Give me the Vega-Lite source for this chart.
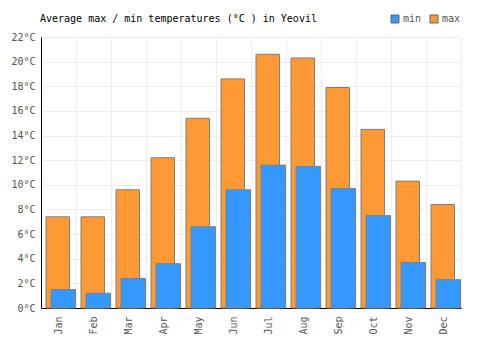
{
  "$schema": "https://vega.github.io/schema/vega-lite/v6.json",
  "width": 420,
  "height": 271,
  "autosize": {"type": "none"},
  "padding": {"left": 41, "top": 37, "right": 39, "bottom": 42},
  "background": "white",
  "title": {"text": "Average max / min temperatures (°C ) in Yeovil", "anchor": "start", "frame": "group", "font": "DejaVu Sans Mono", "fontSize": 10, "fontWeight": "normal", "color": "#000000", "offset": 14, "dx": -1, "dy": 24},
  "config": {
    "font": "DejaVu Sans Mono",
    "view": {"stroke": "#eeeeee", "strokeWidth": 1},
    "axis": {"labelFont": "DejaVu Sans Mono", "labelFontSize": 10, "labelColor": "#555555", "gridColor": "#eeeeee", "gridWidth": 1, "ticks": false, "domainColor": "#000000", "domainWidth": 1, "title": null}
  },
  "data": {"values": [
    {"month": "Jan", "type": "max", "value": 7.4}, {"month": "Jan", "type": "min", "value": 1.5},
    {"month": "Feb", "type": "max", "value": 7.4}, {"month": "Feb", "type": "min", "value": 1.2},
    {"month": "Mar", "type": "max", "value": 9.6}, {"month": "Mar", "type": "min", "value": 2.4},
    {"month": "Apr", "type": "max", "value": 12.2}, {"month": "Apr", "type": "min", "value": 3.6},
    {"month": "May", "type": "max", "value": 15.4}, {"month": "May", "type": "min", "value": 6.6},
    {"month": "Jun", "type": "max", "value": 18.6}, {"month": "Jun", "type": "min", "value": 9.6},
    {"month": "Jul", "type": "max", "value": 20.6}, {"month": "Jul", "type": "min", "value": 11.6},
    {"month": "Aug", "type": "max", "value": 20.3}, {"month": "Aug", "type": "min", "value": 11.5},
    {"month": "Sep", "type": "max", "value": 17.9}, {"month": "Sep", "type": "min", "value": 9.7},
    {"month": "Oct", "type": "max", "value": 14.5}, {"month": "Oct", "type": "min", "value": 7.5},
    {"month": "Nov", "type": "max", "value": 10.3}, {"month": "Nov", "type": "min", "value": 3.7},
    {"month": "Dec", "type": "max", "value": 8.4}, {"month": "Dec", "type": "min", "value": 2.3}
  ]},
  "encoding": {
    "x": {"field": "month", "type": "nominal", "sort": null,
      "scale": {"paddingInner": 0, "paddingOuter": 0},
      "axis": {"labelAngle": -90, "labelPadding": 8, "grid": true, "bandPosition": 0, "labelBaseline": "middle", "labelAlign": "right"}},
    "y": {"field": "value", "type": "quantitative",
      "scale": {"domain": [0, 22], "nice": false},
      "axis": {"values": [0, 2, 4, 6, 8, 10, 12, 14, 16, 18, 20, 22], "labelExpr": "datum.value + '°C'", "labelPadding": 6, "grid": true}},
    "color": {"field": "type", "type": "nominal",
      "scale": {"domain": ["min", "max"], "range": ["#3399ff", "#ff9933"]},
      "legend": {"title": null, "orient": "none", "legendX": 349, "legendY": -23, "direction": "horizontal", "symbolType": "square", "symbolSize": 64, "symbolStrokeColor": "#666666", "symbolStrokeWidth": 1, "symbolOpacity": 1, "labelFontSize": 10, "labelColor": "#555555", "labelOffset": 3, "columnPadding": 6, "symbolOffset": 0}}
  },
  "layer": [
    {"transform": [{"filter": "datum.type == 'max'"}],
     "mark": {"type": "bar", "width": 23.5, "xOffset": -0.75, "stroke": "#808080", "strokeWidth": 1, "opacity": 1}},
    {"transform": [{"filter": "datum.type == 'min'"}],
     "mark": {"type": "bar", "width": 24.5, "xOffset": 4.75, "stroke": "#808080", "strokeWidth": 1, "opacity": 1}}
  ]
}
